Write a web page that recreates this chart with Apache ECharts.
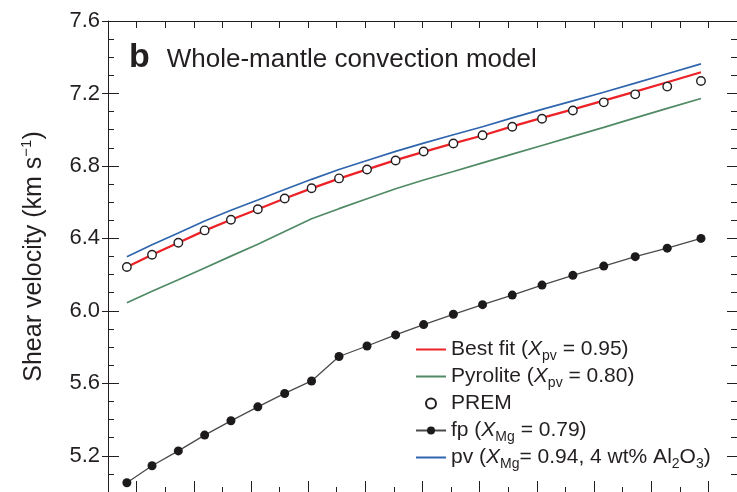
<!DOCTYPE html>
<html>
<head>
<meta charset="utf-8">
<script src="https://cdn.jsdelivr.net/npm/echarts@6/dist/echarts.min.js"></script>
<style>
  html, body { margin: 0; padding: 0; background: #fff; }
  #chart { width: 737px; height: 492px; }
</style>
</head>
<body>
<div id="chart"></div>
<script>
// Pressure (GPa) at each lower-mantle sample depth
const pressure = [28.3, 32.7, 37.3, 41.9, 46.5, 51.2, 55.9, 60.6, 65.4, 70.3, 75.3,
                  80.2, 85.4, 90.5, 95.7, 100.9, 106.3, 111.7, 117.2, 122.8, 128.7];

// Shear velocity (km/s)
const bestFit  = [6.242, 6.310, 6.376, 6.443, 6.503, 6.561, 6.620, 6.676, 6.730, 6.781, 6.832,
                  6.878, 6.924, 6.968, 7.018, 7.065, 7.112, 7.160, 7.210, 7.262, 7.317];
const pyrolite = [6.045, 6.108, 6.172, 6.237, 6.302, 6.368, 6.438, 6.508, 6.564, 6.619, 6.674,
                  6.722, 6.769, 6.817, 6.865, 6.913, 6.963, 7.013, 7.065, 7.118, 7.172];
const prem     = [6.242, 6.310, 6.376, 6.444, 6.503, 6.561, 6.620, 6.677, 6.731, 6.780, 6.830,
                  6.880, 6.924, 6.969, 7.016, 7.060, 7.106, 7.151, 7.195, 7.238, 7.269];
const fp       = [5.051, 5.145, 5.227, 5.314, 5.393, 5.470, 5.544, 5.613, 5.748, 5.806, 5.867,
                  5.924, 5.981, 6.034, 6.087, 6.142, 6.196, 6.247, 6.299, 6.346, 6.400];
const pv       = [6.299, 6.365, 6.430, 6.496, 6.555, 6.612, 6.670, 6.726, 6.780, 6.830, 6.880,
                  6.926, 6.972, 7.016, 7.065, 7.112, 7.159, 7.207, 7.257, 7.309, 7.363];

// Axis ticks
const yTickLabels = [5.2, 5.6, 6.0, 6.4, 6.8, 7.2, 7.6];
const yMinorTicks = [5.1, 5.2, 5.3, 5.4, 5.5, 5.6, 5.7, 5.8, 5.9, 6.0, 6.1, 6.2, 6.3,
                     6.4, 6.5, 6.6, 6.7, 6.8, 6.9, 7.0, 7.1, 7.2, 7.3, 7.4, 7.5];
const xMajorTicks = [30, 40, 50, 60, 70, 80, 90, 100, 110, 120, 130];
const xMinorTicks = [35, 45, 55, 65, 75, 85, 95, 105, 115, 125];
const xTopTicks   = [30, 35, 40, 45, 50, 55, 60, 65, 70, 75, 80, 85, 90, 95, 100,
                     105, 110, 115, 120, 125, 130];

// Legend entries (rich text)
const legendText = {
  'Best fit': 'Best fit ({i|X}{sub|pv} = 0.95)',
  'Pyrolite': 'Pyrolite ({i|X}{sub|pv} = 0.80)',
  'PREM': 'PREM',
  'fp': 'fp ({i|X}{sub|Mg} = 0.79)',
  'pv': 'pv ({i|X}{sub|Mg}= 0.94, 4 wt% Al{sub|2}O{sub|3})'
};

const FONT = '"Liberation Sans", Arial, Helvetica, sans-serif';
const INK = '#231f20';
const X_MIN = 25, X_MAX = 135, Y_MIN = 5.0, Y_MAX = 7.6;

const zip = arr => pressure.map((p, i) => [p, arr[i]]);

function yAx(opts) {
  return Object.assign({
    type: 'value', min: Y_MIN, max: Y_MAX,
    splitLine: { show: false },
    axisLine: { show: false, onZero: false },
    axisLabel: { show: false },
    axisTick: { show: false }
  }, opts);
}
function xAx(opts) {
  return Object.assign({
    type: 'value', min: X_MIN, max: X_MAX,
    splitLine: { show: false },
    axisLine: { show: false, onZero: false },
    axisLabel: { show: false },
    axisTick: { show: false }
  }, opts);
}
const lineCol = { color: INK, width: 1 };

const chart = echarts.init(document.getElementById('chart'), null, { renderer: 'canvas' });
chart.setOption({
  animation: false,
  backgroundColor: '#fff',
  textStyle: { fontFamily: FONT },
  title: {
    text: '{b|b}{t|Whole-mantle convection model}',
    left: 124, top: 36,
    textStyle: {
      fontWeight: 'normal',
      rich: {
        b: { fontFamily: FONT, fontWeight: 'bold', fontSize: 34, color: INK, padding: [0, 17, 0, 0] },
        t: { fontFamily: FONT, fontWeight: 'normal', fontSize: 26, color: INK, padding: [4, 0, 0, 0] }
      }
    }
  },
  grid: { left: 108, top: 21, width: 630, height: 472, containLabel: false },
  xAxis: [
    xAx({ position: 'bottom', axisLine: { show: true, onZero: false, lineStyle: lineCol },
          axisTick: { show: true, inside: true, length: 11, customValues: xMajorTicks, lineStyle: lineCol } }),
    xAx({ position: 'bottom',
          axisTick: { show: true, inside: true, length: 5, customValues: xMinorTicks, lineStyle: lineCol } }),
    xAx({ position: 'top', axisLine: { show: true, onZero: false, lineStyle: lineCol },
          axisTick: { show: true, inside: true, length: 7, customValues: xTopTicks, lineStyle: lineCol } })
  ],
  yAxis: [
    yAx({
      position: 'left',
      axisLine: { show: true, onZero: false, lineStyle: lineCol },
      axisTick: { show: true, inside: false, length: 6, customValues: yTickLabels, lineStyle: lineCol },
      axisLabel: {
        show: true, customValues: yTickLabels, margin: 8,
        formatter: v => Number(v).toFixed(1),
        fontFamily: FONT, fontSize: 22, color: INK
      },
      name: 'Shear velocity (km s{sup|\u22121})',
      nameLocation: 'middle', nameGap: 59, nameRotate: 90,
      nameTextStyle: {
        fontFamily: FONT, fontSize: 25, color: INK, lineHeight: 30,
        rich: { sup: { fontFamily: FONT, fontSize: 15, color: INK, verticalAlign: 'top', lineHeight: 12 } }
      }
    }),
    yAx({ position: 'left',
          axisTick: { show: true, inside: true, length: 11, customValues: yTickLabels, lineStyle: lineCol } }),
    yAx({ position: 'left',
          axisTick: { show: true, inside: true, length: 6, customValues: yMinorTicks, lineStyle: lineCol } }),
    yAx({ position: 'right', axisLine: { show: true, onZero: false, lineStyle: lineCol },
          axisTick: { show: true, inside: true, length: 10, customValues: yTickLabels, lineStyle: lineCol } }),
    yAx({ position: 'right',
          axisTick: { show: true, inside: true, length: 6, customValues: yMinorTicks, lineStyle: lineCol } })
  ],
  legend: {
    orient: 'vertical', left: 410, top: 331,
    itemWidth: 30, itemHeight: 10, itemGap: 0,
    data: ['Best fit', 'Pyrolite', 'PREM', 'fp', 'pv'],
    formatter: name => legendText[name],
    textStyle: {
      fontFamily: FONT, fontSize: 21, color: INK, lineHeight: 27,
      rich: {
        i: { fontFamily: FONT, fontStyle: 'italic', fontSize: 21, color: INK, lineHeight: 27 },
        sub: { fontFamily: FONT, fontSize: 14, color: INK, lineHeight: 12, verticalAlign: 'bottom' }
      }
    }
  },
  series: [
    {
      name: 'pv', type: 'line', data: zip(pv), symbol: 'none', z: 2,
      lineStyle: { color: '#2e65ad', width: 1.7 },
      itemStyle: { color: 'rgba(0,0,0,0)' }
    },
    {
      name: 'Pyrolite', type: 'line', data: zip(pyrolite), symbol: 'none', z: 2,
      lineStyle: { color: '#4f8a64', width: 1.7 },
      itemStyle: { color: 'rgba(0,0,0,0)' }
    },
    {
      name: 'Best fit', type: 'line', data: zip(bestFit), symbol: 'none', z: 3,
      lineStyle: { color: '#ec2227', width: 2.3 },
      itemStyle: { color: 'rgba(0,0,0,0)' }
    },
    {
      name: 'fp', type: 'line', data: zip(fp), symbol: 'circle', symbolSize: 9, z: 4,
      lineStyle: { color: '#4a4a4a', width: 1.3 },
      itemStyle: { color: '#1c1a1a' }
    },
    {
      name: 'PREM', type: 'scatter', data: zip(prem), symbol: 'circle', symbolSize: 8.5, z: 5,
      itemStyle: { color: '#ffffff', borderColor: INK, borderWidth: 1.4, opacity: 1 }
    }
  ]
});
</script>
</body>
</html>
